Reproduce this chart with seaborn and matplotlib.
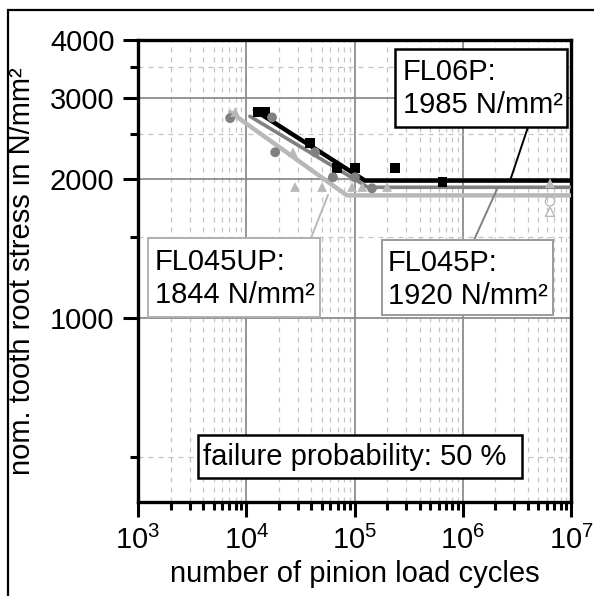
import numpy as np
import pandas as pd
import matplotlib
matplotlib.use("Agg")
import matplotlib.pyplot as plt
import matplotlib.ticker as mticker
from matplotlib.patches import Rectangle
import seaborn as sns

# --- S-N data: number of load cycles vs. nominal tooth root stress (N/mm²) ---
fl06p_cycles = [12.9e3, 14.9e3, 38.8e3, 68.8e3, 101e3, 237e3, 650e3]
fl06p_stress = [2793, 2793, 2394, 2112, 2112, 2112, 1968]
fl045p_cycles = [7.1e3, 17.3e3, 18.5e3, 43.2e3, 63.2e3, 101e3, 145e3]
fl045p_stress = [2710, 2720, 2286, 2286, 2018, 2018, 1910]
fl045up_cycles = [7.9e3, 27e3, 28.2e3, 50.2e3, 94.9e3, 118e3, 200e3, 6.4e6]
fl045up_stress = [2793, 2286, 1923, 1923, 1923, 1923, 1923, 1960]
runout_cycles = [6.4e6, 6.4e6]
runout_stress = [1790, 1700]
runout_series = ["FL045P", "FL045UP"]

# fitted S-N curves: start of finite-life line, knee point, end of range
fl06p_curve_n = [12.0e3, 1.25e5, 1e7]
fl06p_curve_s = [2818, 1985, 1985]
fl045p_curve_n = [10.8e3, 1.33e5, 1e7]
fl045p_curve_s = [2735, 1920, 1920]
fl045up_curve_n = [7.1e3, 8.5e4, 1e7]
fl045up_curve_s = [2793, 1844, 1844]

endurance = {"FL06P": 1985, "FL045P": 1920, "FL045UP": 1844}
failure_probability = 50

colors = {"FL06P": "#000000", "FL045P": "#808080", "FL045UP": "#b8b8b8"}
markers = {"FL06P": "s", "FL045P": "o", "FL045UP": "^"}

points = pd.concat([
    pd.DataFrame({"N": fl06p_cycles, "S": fl06p_stress, "series": "FL06P"}),
    pd.DataFrame({"N": fl045p_cycles, "S": fl045p_stress, "series": "FL045P"}),
    pd.DataFrame({"N": fl045up_cycles, "S": fl045up_stress, "series": "FL045UP"}),
], ignore_index=True)
curves = pd.concat([
    pd.DataFrame({"N": fl06p_curve_n, "S": fl06p_curve_s, "series": "FL06P"}),
    pd.DataFrame({"N": fl045p_curve_n, "S": fl045p_curve_s, "series": "FL045P"}),
    pd.DataFrame({"N": fl045up_curve_n, "S": fl045up_curve_s, "series": "FL045UP"}),
], ignore_index=True)
runouts = pd.DataFrame({"N": runout_cycles, "S": runout_stress, "series": runout_series})

sns.set_style("white")
plt.rcParams["font.family"] = ["Liberation Sans", "DejaVu Sans"]
plt.rcParams["mathtext.fontset"] = "custom"
plt.rcParams["mathtext.rm"] = "Liberation Sans"
plt.rcParams["mathtext.it"] = "Liberation Sans:italic"
plt.rcParams["mathtext.bf"] = "Liberation Sans:bold"
plt.rcParams["text.color"] = "black"
plt.rcParams["axes.labelcolor"] = "black"
plt.rcParams["xtick.color"] = "black"
plt.rcParams["ytick.color"] = "black"

FS = 21
fig = plt.figure(figsize=(5.94, 5.96), dpi=100)
ax = fig.add_axes([138 / 594, 1 - 502 / 596, 433 / 594, 462 / 596])

ax.set_xscale("log")
ax.set_yscale("log")
ax.set_xlim(1e3, 1e7)
ax.set_ylim(400, 4000)

# grid
ax.xaxis.set_major_locator(mticker.LogLocator(base=10, numticks=10))
ax.xaxis.set_minor_locator(mticker.LogLocator(base=10, subs=np.arange(2, 10), numticks=100))
ax.xaxis.set_minor_formatter(mticker.NullFormatter())
ax.yaxis.set_major_locator(mticker.FixedLocator([1000, 2000, 3000, 4000]))
ax.yaxis.set_major_formatter(mticker.FixedFormatter(["1000", "2000", "3000", "4000"]))
ax.yaxis.set_minor_locator(mticker.FixedLocator([500, 1500, 2500, 3500]))
ax.yaxis.set_minor_formatter(mticker.NullFormatter())
ax.grid(True, which="major", color="#8c8c8c", lw=1.3, ls="-", zorder=0)
ax.grid(True, which="minor", color="#c4c4c4", lw=0.9, ls=(0, (4, 4)), zorder=0)
ax.set_axisbelow(True)

# S-N curves and test points
sns.lineplot(data=curves, x="N", y="S", hue="series", palette=colors,
             hue_order=["FL045UP", "FL045P", "FL06P"], lw=3.0, legend=False,
             estimator=None, sort=False, ax=ax, zorder=3)
for ln, name in zip(ax.lines[-3:], ["FL045UP", "FL045P", "FL06P"]):
    ln.set_linewidth(3.2 if name != "FL045P" else 2.6)
sns.scatterplot(data=points, x="N", y="S", hue="series", style="series",
                palette=colors, markers=markers, s=50, linewidth=0,
                legend=False, ax=ax, zorder=4)
sns.scatterplot(data=runouts, x="N", y="S", style="series", markers=markers,
                s=45, facecolor="none", edgecolor="#b8b8b8", linewidth=1.0,
                legend=False, ax=ax, zorder=4)

# axes styling
for sp in ax.spines.values():
    sp.set_linewidth(2.4)
    sp.set_color("black")
ax.tick_params(which="major", direction="out", length=11, width=2.2,
               labelsize=FS, pad=6, bottom=True, left=True, top=False, right=False)
ax.tick_params(which="minor", direction="out", length=6, width=2.2,
               bottom=True, left=True, top=False, right=False)
ax.set_xlabel("number of pinion load cycles", fontsize=FS, labelpad=4)
ax.set_ylabel("nom. tooth root stress in N/mm²", fontsize=FS, labelpad=10)


def box(x0, x1, y0, y1, ec, lw):
    ax.add_patch(Rectangle((x0, y0), x1 - x0, y1 - y0, transform=ax.transAxes,
                           facecolor="white", edgecolor=ec, lw=lw, zorder=6,
                           clip_on=False))


def leader(p0, p1, color):
    ax.plot([p0[0], p1[0]], [p0[1], p1[1]], transform=ax.transAxes,
            color=color, lw=1.4, zorder=5, clip_on=False)


# endurance-limit annotations
leader((0.9007, 0.8117), (0.859, 0.6948), "#000000")
box(0.5935, 0.9908, 0.8117, 0.9805, "black", 1.8)
ax.text(0.612, 0.9134, "FL06P:", transform=ax.transAxes, fontsize=FS, va="baseline", zorder=7)
ax.text(0.612, 0.842, f"{endurance['FL06P']} N/mm²", transform=ax.transAxes,
        fontsize=FS, va="baseline", zorder=7)

leader((0.8314, 0.6818), (0.776, 0.567), "#808080")
box(0.5635, 0.9584, 0.4048, 0.5671, "#9a9a9a", 1.4)
ax.text(0.5774, 0.5, "FL045P:", transform=ax.transAxes, fontsize=FS, va="baseline", zorder=7)
ax.text(0.5774, 0.4286, f"{endurance['FL045P']} N/mm²", transform=ax.transAxes,
        fontsize=FS, va="baseline", zorder=7)

leader((0.4388, 0.6645), (0.3995, 0.5714), "#b8b8b8")
box(0.0231, 0.4203, 0.4004, 0.5714, "#b0b0b0", 1.4)
ax.text(0.0393, 0.5022, "FL045UP:", transform=ax.transAxes, fontsize=FS, va="baseline", zorder=7)
ax.text(0.0393, 0.4307, f"{endurance['FL045UP']} N/mm²", transform=ax.transAxes,
        fontsize=FS, va="baseline", zorder=7)

box(0.1386, 0.8868, 0.052, 0.145, "black", 1.8)
ax.text(0.150, 0.080, f"failure probability: {failure_probability} %",
        transform=ax.transAxes, fontsize=FS, va="baseline", zorder=7)

# outer frame
fig.add_artist(Rectangle((8 / 594, -0.05), 1.2, 1 - 10 / 596 + 0.05,
                         transform=fig.transFigure, facecolor="none",
                         edgecolor="black", lw=1.6))

fig.savefig("out.png", dpi=100)
